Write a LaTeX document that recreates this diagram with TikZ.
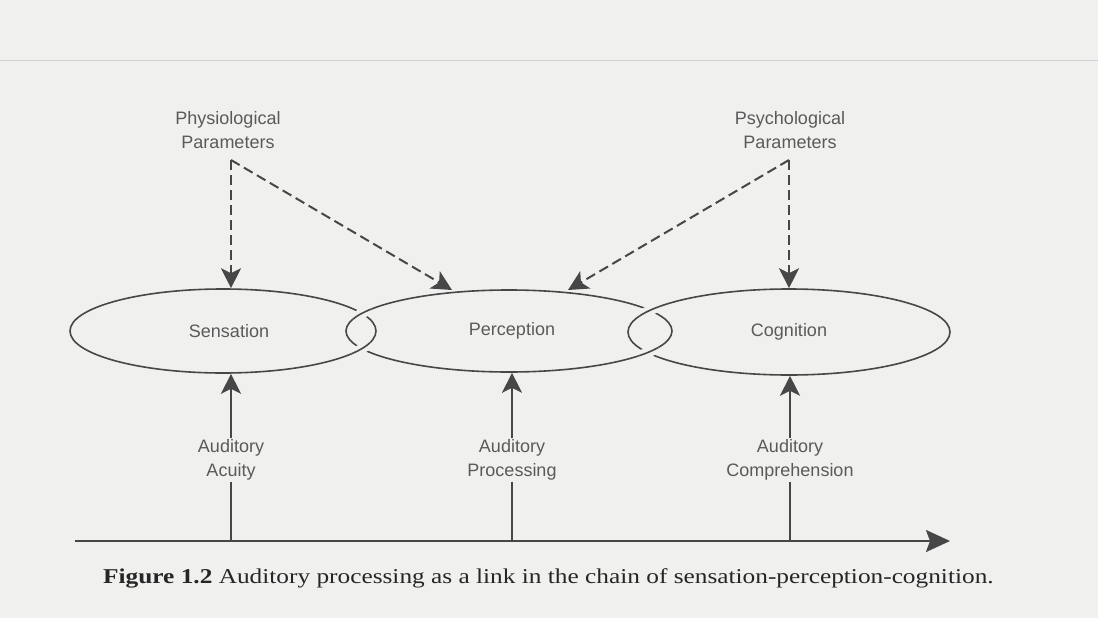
\documentclass[tikz,border=0pt]{standalone}
\usepackage{fontspec}
\setmainfont{Liberation Serif}
\newfontfamily\labfont{Liberation Sans}
\newfontfamily\capfont[FakeStretch=1.2]{Liberation Serif}
\usetikzlibrary{arrows.meta,shapes.geometric,calc}
\definecolor{paper}{HTML}{F0F0EE}
\definecolor{ink}{HTML}{474747}
\definecolor{txt}{HTML}{5A5A5A}
\begin{document}
\begin{tikzpicture}[x=1pt,y=-1pt,
  lab/.style={font=\labfont\fontsize{18}{24}\selectfont, text=txt, align=center, inner sep=1pt},
  oval/.style={ellipse, draw=ink, line width=1.6pt, inner sep=0pt, font=\labfont\fontsize{18}{22}\selectfont, text=txt},
  tip/.style={-{Stealth[length=20pt,width=20pt,inset=5pt]}},
  dasharrow/.style={draw=ink, line width=2pt, dash pattern=on 10pt off 5pt, tip},
  solidarrow/.style={draw=ink, line width=2pt, tip},
  stem/.style={draw=ink, line width=2pt},
  gap/.style={draw=paper, line width=10pt},
  redraw/.style={draw=ink, line width=1.6pt}]
\fill[paper] (0,0) rectangle (1098,618);
\useasboundingbox (0,0) rectangle (1098,618);
\draw[black!18, line width=1pt] (0,61) -- (1098,61);

% ovals
\node[oval, minimum width=306pt, minimum height=84pt] (sens) at (223,331) {\hspace*{12pt}Sensation};
\node[oval, minimum width=326pt, minimum height=82pt] (perc) at (509,331) {\hspace*{6pt}Perception};
\node[oval, minimum width=322pt, minimum height=86pt] (cogn) at (789,332) {Cognition};

% interlocking crossings
\begin{scope}
  \clip (361.5,313) circle (11pt);
  \path[gap] (perc.center) ellipse [x radius=163pt, y radius=41pt];
  \path[redraw] (perc.center) ellipse [x radius=163pt, y radius=41pt];
\end{scope}
\begin{scope}
  \clip (361.5,349) circle (11pt);
  \path[gap] (sens.center) ellipse [x radius=153pt, y radius=42pt];
  \path[redraw] (sens.center) ellipse [x radius=153pt, y radius=42pt];
\end{scope}
\begin{scope}
  \clip (649,310.5) circle (11pt);
  \path[gap] (cogn.center) ellipse [x radius=161pt, y radius=43pt];
  \path[redraw] (cogn.center) ellipse [x radius=161pt, y radius=43pt];
\end{scope}
\begin{scope}
  \clip (649,352.5) circle (11pt);
  \path[gap] (perc.center) ellipse [x radius=163pt, y radius=41pt];
  \path[redraw] (perc.center) ellipse [x radius=163pt, y radius=41pt];
\end{scope}

% top parameters
\node[lab] (phys) at (228,130) {Physiological\\Parameters};
\node[lab] (psych) at (790,130) {Psychological\\Parameters};
\coordinate (pp) at (231,160);
\coordinate (qq) at (789,160);
\coordinate (pin1) at (452,290);
\coordinate (pin2) at (568,290);
\draw[dasharrow] (pp) -- (pp |- sens.north);
\draw[dasharrow] (pp) -- (pin1);
\draw[dasharrow] (qq) -- (qq |- cogn.north);
\draw[dasharrow] (qq) -- (pin2);

% axis
\coordinate (ax0) at (75,541);
\coordinate (ax1) at (950,541);
\draw[ink, line width=2pt, -{Stealth[length=24pt,width=22pt,inset=4pt]}] (ax0) -- (ax1);

% bottom labels
\node[lab] (acu) at (231,460) {Auditory\\Acuity};
\node[lab] (proc) at (512,460) {Auditory\\Processing};
\node[lab] (comp) at (790,460) {Auditory\\Comprehension};
\draw[solidarrow] (acu.north) -- (acu.north |- sens.south);
\draw[solidarrow] (proc.north) -- (proc.north |- perc.south);
\draw[solidarrow] (comp.north) -- (comp.north |- cogn.south);
\draw[stem] (acu.south) -- (acu.south |- ax0);
\draw[stem] (proc.south) -- (proc.south |- ax0);
\draw[stem] (comp.south) -- (comp.south |- ax0);

% caption
\node[anchor=west, inner sep=0pt, font=\capfont\fontsize{21.1}{25}\selectfont, text=black!85] (cap) at (103,578)
  {\textbf{Figure 1.2} Auditory processing as a link in the chain of sensation-perception-cognition.};
\end{tikzpicture}
\end{document}
